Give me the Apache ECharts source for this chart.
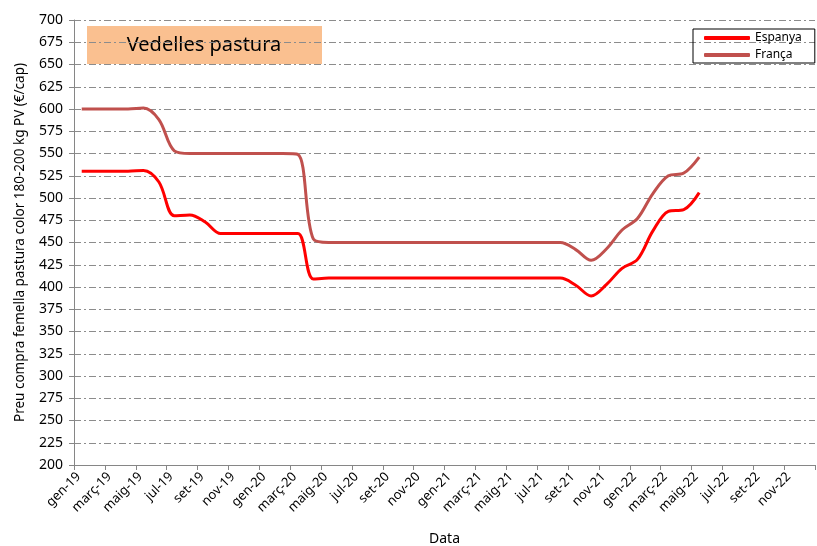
<!DOCTYPE html>
<html>
<head>
<meta charset="utf-8">
<script src="https://cdn.jsdelivr.net/npm/echarts@6/dist/echarts.min.js"></script>
<style>
  html, body { margin: 0; padding: 0; background: #fff; }
  #chart { width: 817px; height: 546px; }
</style>
</head>
<body>
<div id="chart"></div>
<script>
// tick labels every 2 months, gen-19 .. nov-22
const tickLabels = ['gen-19', 'març-19', 'maig-19', 'jul-19', 'set-19', 'nov-19',
  'gen-20', 'març-20', 'maig-20', 'jul-20', 'set-20', 'nov-20',
  'gen-21', 'març-21', 'maig-21', 'jul-21', 'set-21', 'nov-21',
  'gen-22', 'març-22', 'maig-22', 'jul-22', 'set-22', 'nov-22']

// monthly values (mid-month), gen-19 .. maig-22
const espanya = [530, 530, 530, 530, 531, 518, 480, 481, 473, 460,
  460, 460, 460, 460, 460, 409, 410, 410, 410, 410,
  410, 410, 410, 410, 410, 410, 410, 410, 410, 410,
  410, 410, 402, 390, 403, 421, 431, 463, 485, 487, 506]
const franca = [600, 600, 600, 600, 601, 588, 553, 550, 550, 550,
  550, 550, 550, 550, 549, 454, 450, 450, 450, 450,
  450, 450, 450, 450, 450, 450, 450, 450, 450, 450,
  450, 450, 442, 430, 443, 464, 477, 505, 525, 528, 546]

const toPoints = arr => arr.map((v, i) => [i + 0.5, v])

const font = 'Noto Sans'
const chart = echarts.init(document.getElementById('chart'))
chart.setOption({
  animation: false,
  textStyle: { fontFamily: font },
  grid: { left: 74, right: 2, top: 20, bottom: 81, outerBoundsMode: 'none' },
  legend: {
    orient: 'vertical',
    left: 693,
    top: 29,
    padding: [3, 13, 2, 11],
    itemGap: 5,
    itemWidth: 46,
    itemHeight: 4,
    icon: 'roundRect',
    borderColor: '#000',
    borderWidth: 1,
    textStyle: { fontSize: 12, color: '#000', fontFamily: font },
    data: ['Espanya', 'França']
  },
  graphic: [
    {
      type: 'rect',
      shape: { x: 87, y: 26, width: 235, height: 38 },
      style: { fill: '#FAC090' }
    },
    {
      type: 'text',
      x: 204, y: 45,
      style: {
        text: 'Vedelles pastura', fontSize: 20, fontFamily: font,
        fill: '#000', align: 'center', verticalAlign: 'middle'
      }
    }
  ],
  xAxis: {
    type: 'value',
    min: 0,
    max: 48,
    interval: 2,
    name: 'Data',
    nameLocation: 'middle',
    nameGap: 67,
    nameTextStyle: { fontSize: 14, color: '#000' },
    axisLine: { lineStyle: { color: '#868686' } },
    axisTick: { length: 5, lineStyle: { color: '#868686' } },
    axisLabel: {
      rotate: 45,
      fontSize: 13,
      color: '#000',
      margin: 5,
      verticalAlign: 'top',
      showMaxLabel: true,
      hideOverlap: false,
      formatter: v => tickLabels[v / 2] || ''
    },
    splitLine: { show: false }
  },
  yAxis: {
    type: 'value',
    min: 200,
    max: 700,
    interval: 25,
    name: 'Preu compra femella pastura color 180-200 kg PV (€/cap)',
    nameLocation: 'middle',
    nameGap: 47,
    nameTextStyle: { fontSize: 13.5, color: '#000' },
    axisLine: { show: true, lineStyle: { color: '#868686' } },
    axisTick: { show: true, length: 5, lineStyle: { color: '#868686' } },
    axisLabel: { fontSize: 14, color: '#000', margin: 11 },
    splitLine: {
      lineStyle: { color: '#8c8c8c', width: 1, type: [7, 3, 2, 3] }
    }
  },
  series: [
    {
      name: 'Espanya',
      type: 'line',
      data: toPoints(espanya),
      smooth: 0.35,
      symbol: 'none',
      lineStyle: { width: 3, color: '#FF0000' },
      itemStyle: { color: '#FF0000' }
    },
    {
      name: 'França',
      type: 'line',
      data: toPoints(franca),
      smooth: 0.35,
      symbol: 'none',
      lineStyle: { width: 3, color: '#C0504D' },
      itemStyle: { color: '#C0504D' }
    }
  ]
})
</script>
</body>
</html>
